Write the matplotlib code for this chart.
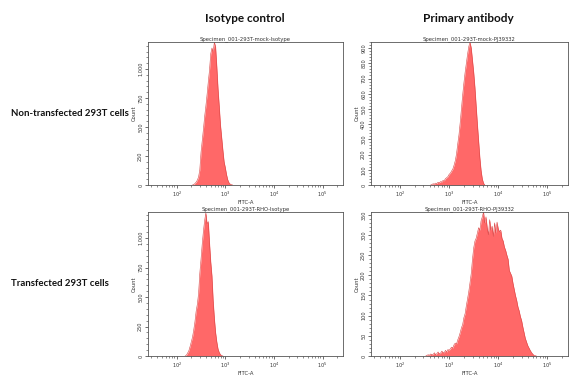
import numpy as np
import matplotlib
matplotlib.use("Agg")
import matplotlib.pyplot as plt
from matplotlib.ticker import FixedLocator, MultipleLocator, FuncFormatter

# Histogram bins are spaced 0.025 in log10(FITC-A); each panel lists counts
# starting from its own first bin.
BIN_STEP = 0.025

titles = [
    "Specimen_001-293T-mock-Isotype",
    "Specimen_001-293T-mock-PJ39332",
    "Specimen_001-293T-RHO-Isotype",
    "Specimen_001-293T-RHO-PJ39332",
]
col_titles = ["Isotype control", "Primary antibody"]
row_titles = ["Non-transfected 293T cells", "Transfected 293T cells"]

mock_iso_start = 2.325
mock_iso_counts = [
    0, 5, 12, 25, 42, 70, 130, 280, 380, 480, 590, 680, 780, 890, 990, 1130,
    1180, 1150, 1230, 1190, 1020, 830, 680, 520, 410, 300, 200, 150, 90, 45,
    20, 8, 3, 0,
]

mock_ab_start = 2.625
mock_ab_counts = [
    0, 4, 8, 6, 12, 10, 18, 14, 22, 20, 30, 28, 42, 48, 55, 70, 78, 92, 105,
    130, 160, 205, 270, 330, 410, 500, 590, 670, 740, 800, 860, 910, 940, 900,
    820, 740, 640, 520, 400, 290, 180, 95, 40, 12, 0,
]

rho_iso_start = 2.175
rho_iso_counts = [
    0, 8, 25, 45, 80, 120, 160, 220, 290, 380, 440, 530, 700, 820, 950, 1060,
    1150, 1215, 1120, 1140, 960, 800, 680, 470, 320, 200, 120, 60, 30, 12, 4, 0,
]

rho_ab_start = 2.525
rho_ab_counts = [
    0, 2, 3, 2, 5, 3, 4, 8, 3, 6, 10, 5, 7, 12, 9, 8, 14, 10, 16, 14, 18, 22,
    20, 28, 32, 30, 40, 48, 58, 70, 78, 95, 105, 125, 142, 160, 182, 205, 240,
    268, 285, 292, 305, 318, 312, 335, 345, 357, 330, 345, 318, 300, 338, 312,
    322, 296, 330, 305, 332, 315, 308, 312, 292, 285, 270, 262, 250, 240, 212,
    205, 198, 180, 165, 150, 138, 122, 112, 98, 88, 72, 58, 44, 35, 26, 20, 14,
    9, 5, 2, 1, 0,
]

starts = [mock_iso_start, mock_ab_start, rho_iso_start, rho_ab_start]
counts = [mock_iso_counts, mock_ab_counts, rho_iso_counts, rho_ab_counts]
y_max = [1232, 940, 1222, 357]
y_major = [250, 100, 250, 50]
y_minor = [50, 20, 50, 10]

# axes boxes in figure fraction [left, bottom, width, height]
boxes = [
    [0.2543, 0.5106, 0.3350, 0.3783],
    [0.6375, 0.5106, 0.3385, 0.3783],
    [0.2543, 0.0582, 0.3350, 0.3810],
    [0.6375, 0.0582, 0.3385, 0.3810],
]

FILL = "#ff6868"
EDGE = "#d94545"
TICK_FS = 3.6


def ylab(v, pos):
    return f"{int(v):,}"


fig = plt.figure(figsize=(5.82, 3.78), dpi=100)
fig.patch.set_facecolor("white")

for i in range(4):
    ax = fig.add_axes(boxes[i])
    c = np.array(counts[i], dtype=float)
    x = 10 ** (starts[i] + BIN_STEP * np.arange(len(c)))
    ax.fill_between(x, c, 0, color=FILL, linewidth=0)
    ax.plot(x, c, color=EDGE, linewidth=0.4)

    ax.set_xscale("log")
    ax.set_xlim(10 ** 1.41, 10 ** 5.42)
    ax.set_ylim(0, y_max[i])
    ax.xaxis.set_major_locator(FixedLocator([1e2, 1e3, 1e4, 1e5]))
    minors = [m * 10 ** d for d in range(1, 6) for m in range(2, 10)]
    ax.xaxis.set_minor_locator(FixedLocator(minors))
    ax.xaxis.set_major_formatter(
        FuncFormatter(lambda v, p: "$10^{%d}$" % round(np.log10(v))))
    ax.yaxis.set_major_locator(MultipleLocator(y_major[i]))
    ax.yaxis.set_minor_locator(MultipleLocator(y_minor[i]))
    ax.yaxis.set_major_formatter(FuncFormatter(ylab))

    ax.tick_params(axis="both", which="major", length=2.5, width=0.5,
                   labelsize=TICK_FS, colors="#333333", pad=1)
    ax.tick_params(axis="both", which="minor", length=1.4, width=0.4,
                   colors="#333333")
    for lab in ax.get_yticklabels():
        lab.set_rotation(90)
        lab.set_va("center")
    for sp in ax.spines.values():
        sp.set_linewidth(0.6)
        sp.set_color("#555555")

    ax.set_title(titles[i], fontsize=3.8, color="#333333", pad=1.2)
    ax.set_xlabel("FITC-A", fontsize=3.8, color="#333333", labelpad=0.5)
    ax.set_ylabel("Count", fontsize=3.8, color="#333333", labelpad=1)

for j, t in enumerate(col_titles):
    xc = [245, 468][j] / 582
    fig.text(xc, 1 - 19 / 378, t, ha="center", va="center",
             fontsize=8.5, fontweight="bold", family=["Lato", "DejaVu Sans"],
             color="#111111")

for j, t in enumerate(row_titles):
    yc = 1 - [114, 283][j] / 378
    fig.text(11 / 582, yc, t, ha="left", va="center",
             fontsize=6.9, fontweight="bold", family=["Lato", "DejaVu Sans"],
             color="#111111")

fig.savefig("out.png", dpi=100)
